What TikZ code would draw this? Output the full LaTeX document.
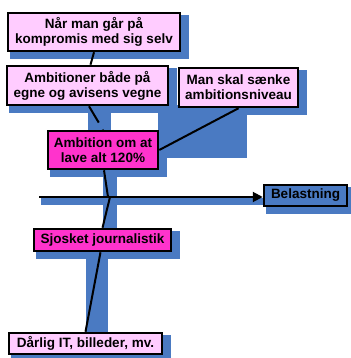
\documentclass[tikz,border=0pt]{standalone}
\usepackage{fontspec}
\setmainfont{Liberation Sans}
\usetikzlibrary{backgrounds,arrows.meta}
\definecolor{lightpink}{HTML}{FFCCFF}
\definecolor{hotpink}{HTML}{FF33CC}
\definecolor{shadeblue}{HTML}{4A7AC2}
\begin{document}
\begin{tikzpicture}[x=1pt,y=-1pt,every node/.style={draw=black,line width=2.5pt,inner sep=0pt,align=center,font=\fontsize{13.5}{15}\selectfont\bfseries},conn/.style={line width=2pt}]
\useasboundingbox (0,0) rectangle (350,358);
% Causes, top to bottom
\node(b1)[fill=lightpink,minimum width=172pt,minimum height=38pt] at (94,32) {Når man går på\\kompromis med sig selv};
\node(b2)[fill=lightpink,minimum width=161pt,minimum height=39pt] at (87.5,85.5) {Ambitioner både på\\egne og avisens vegne};
\node(b3)[fill=lightpink,minimum width=119pt,minimum height=39pt] at (238.5,87.5) {Man skal sænke\\ambitionsniveau};
\node(b4)[fill=hotpink,minimum width=110pt,minimum height=38pt] at (103,150) {Ambition om at\\lave alt 120\%};
\node(sj)[fill=hotpink,minimum width=137pt,minimum height=22pt] at (102.5,240) {Sjosket journalistik};
\node(da)[fill=lightpink,minimum width=153pt,minimum height=21pt] at (85.5,343.5) {Dårlig IT, billeder, mv.};
% Effect
\node(bel)[fill=shadeblue,minimum width=83pt,minimum height=21pt] at (305.5,195.5) {Belastning};
\coordinate (tail) at (39,197);
\coordinate (sp) at (108,197);
% Shadows
\begin{scope}[on background layer]
\foreach \n in {b1,b2,b3,b4,bel,sj,da}
  \fill[shadeblue] ([shift={(3,3)}]\n.north west) rectangle ([shift={(8,7)}]\n.south east);
\fill[shadeblue] (88,112) rectangle (111,140);
\fill[shadeblue] (158,105) rectangle (247,158);
\fill[shadeblue] (103,170) rectangle (117,228);
\fill[shadeblue] (41,198) rectangle (267,205);
\fill[shadeblue] (86,257) rectangle (108,333);
\end{scope}
% Spine and bones
\draw[conn,-{Triangle[length=10pt,width=10pt]}] (tail) -- (tail -| bel.west);
\draw[conn] (b1.south) -- ([xshift=3pt]b2.north);
\draw[conn,dash pattern=on 19pt off 8pt on 6pt] ([xshift=1.5pt]b2.south) -- (b4.north);
\draw[conn] (b3.south) -- (b4.east);
\draw[conn] ([xshift=1pt]b4.south) -- (sp);
\draw[conn] ([xshift=2pt]sp) -- (sj.north);
\draw[conn] ([xshift=-2pt]sj.south) -- (da.north);
\end{tikzpicture}
\end{document}
